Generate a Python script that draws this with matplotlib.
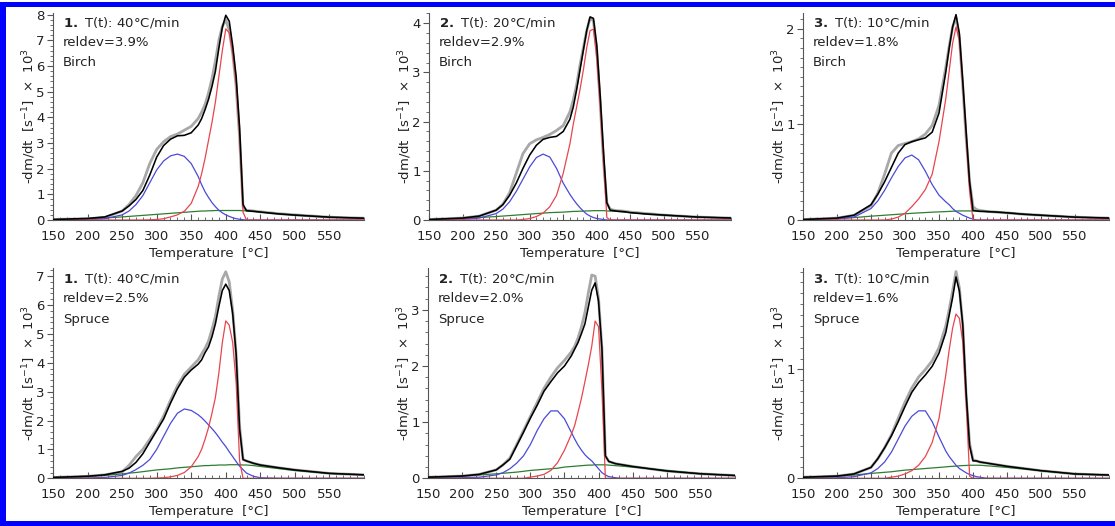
import matplotlib
matplotlib.use("Agg")
import matplotlib.pyplot as plt
from matplotlib.patches import Rectangle
from matplotlib.ticker import MultipleLocator

plt.rcParams['font.family'] = ['DejaVu Sans']

# Shared temperature grid [°C]
temperature = [150, 200, 225, 250, 260, 270, 280, 290, 300, 310, 320, 330, 340, 350, 360, 365, 370,
               375, 380, 385, 390, 395, 400, 405, 410, 415, 420, 425, 430, 440, 450, 475, 500, 550, 600]

# ---- Birch, 40 °C/min ----
birch40_obs = [0.02, 0.05, 0.1, 0.35, 0.6, 0.95, 1.45, 2.2, 2.75, 3.05, 3.25, 3.35, 3.5, 3.65, 3.95, 4.2, 4.5,
               4.95, 5.5, 6.2, 7.0, 7.55, 7.8, 7.4, 6.5, 5.2, 3.2, 0.5, 0.38, 0.35, 0.32, 0.25, 0.2, 0.11, 0.07]
birch40_fit = [0.02, 0.06, 0.12, 0.35, 0.55, 0.8, 1.15, 1.75, 2.45, 2.9, 3.15, 3.28, 3.3, 3.4, 3.7, 3.95, 4.3,
               4.7, 5.2, 5.8, 6.7, 7.5, 7.98, 7.75, 6.8, 5.6, 3.6, 0.6, 0.36, 0.34, 0.31, 0.24, 0.19, 0.11, 0.07]
birch40_hemi = [0, 0.01, 0.05, 0.2, 0.35, 0.6, 0.95, 1.45, 1.95, 2.3, 2.5, 2.57, 2.48, 2.2, 1.7, 1.38, 1.1,
                0.88, 0.68, 0.52, 0.38, 0.28, 0.2, 0.14, 0.09, 0.05, 0.03, 0.01, 0, 0, 0, 0, 0, 0, 0]
birch40_cell = [0, 0, 0, 0, 0, 0, 0, 0.01, 0.02, 0.05, 0.12, 0.2, 0.34, 0.65, 1.3, 1.8, 2.4,
                3.1, 3.8, 4.6, 5.6, 6.6, 7.45, 7.3, 6.5, 5.3, 3.3, 0.3, 0, 0, 0, 0, 0, 0, 0]
birch40_lig = [0.02, 0.05, 0.08, 0.12, 0.14, 0.16, 0.18, 0.2, 0.22, 0.24, 0.26, 0.28, 0.3, 0.32, 0.34, 0.35, 0.35,
               0.36, 0.36, 0.37, 0.37, 0.37, 0.37, 0.37, 0.37, 0.37, 0.37, 0.36, 0.36, 0.34, 0.31, 0.25, 0.2, 0.11, 0.07]

# ---- Birch, 20 °C/min ----
birch20_obs = [0.01, 0.04, 0.08, 0.2, 0.32, 0.55, 0.95, 1.35, 1.55, 1.63, 1.68, 1.74, 1.82, 1.92, 2.2, 2.44, 2.75,
               3.15, 3.5, 3.85, 4.1, 4.05, 3.45, 2.4, 1.2, 0.35, 0.22, 0.2, 0.19, 0.18, 0.16, 0.13, 0.1, 0.06, 0.04]
birch20_fit = [0.01, 0.04, 0.08, 0.2, 0.31, 0.5, 0.75, 1.05, 1.32, 1.52, 1.64, 1.68, 1.7, 1.8, 2.05, 2.3, 2.65,
               3.05, 3.45, 3.85, 4.13, 4.1, 3.55, 2.55, 1.4, 0.35, 0.2, 0.19, 0.18, 0.17, 0.15, 0.12, 0.1, 0.06, 0.04]
birch20_hemi = [0, 0.01, 0.04, 0.13, 0.22, 0.37, 0.58, 0.83, 1.08, 1.27, 1.34, 1.28, 1.05, 0.75, 0.52, 0.42, 0.33,
                0.25, 0.18, 0.12, 0.08, 0.05, 0.03, 0.02, 0.01, 0, 0, 0, 0, 0, 0, 0, 0, 0, 0]
birch20_cell = [0, 0, 0, 0, 0, 0, 0, 0.01, 0.03, 0.07, 0.14, 0.27, 0.5, 0.95, 1.55, 1.95, 2.3,
                2.65, 3.05, 3.5, 3.85, 3.88, 3.3, 2.35, 1.2, 0.05, 0, 0, 0, 0, 0, 0, 0, 0, 0]
birch20_lig = [0.01, 0.03, 0.05, 0.07, 0.08, 0.09, 0.1, 0.11, 0.12, 0.13, 0.14, 0.15, 0.155, 0.16, 0.17, 0.175, 0.175,
               0.18, 0.18, 0.185, 0.185, 0.19, 0.19, 0.19, 0.19, 0.185, 0.18, 0.18, 0.175, 0.165, 0.15, 0.125, 0.1, 0.06, 0.04]

# ---- Birch, 10 °C/min ----
birch10_obs = [0.005, 0.02, 0.05, 0.15, 0.28, 0.48, 0.7, 0.78, 0.8, 0.82, 0.85, 0.9, 0.99, 1.2, 1.6, 1.82, 2.02,
               2.12, 1.9, 1.4, 0.85, 0.4, 0.14, 0.11, 0.1, 0.095, 0.09, 0.088, 0.085, 0.08, 0.075, 0.06, 0.05, 0.03, 0.02]
birch10_fit = [0.005, 0.02, 0.05, 0.16, 0.27, 0.4, 0.55, 0.7, 0.79, 0.82, 0.84, 0.86, 0.92, 1.12, 1.55, 1.8, 2.02,
               2.15, 1.95, 1.45, 0.92, 0.4, 0.1, 0.095, 0.09, 0.09, 0.088, 0.086, 0.085, 0.08, 0.075, 0.06, 0.05, 0.03, 0.02]
birch10_hemi = [0, 0.01, 0.03, 0.12, 0.2, 0.31, 0.44, 0.56, 0.65, 0.68, 0.63, 0.51, 0.37, 0.26, 0.19, 0.16, 0.12,
                0.09, 0.07, 0.05, 0.035, 0.02, 0.01, 0, 0, 0, 0, 0, 0, 0, 0, 0, 0, 0, 0]
birch10_cell = [0, 0, 0, 0, 0, 0, 0.01, 0.03, 0.07, 0.14, 0.22, 0.32, 0.48, 0.82, 1.27, 1.56, 1.85,
                2.02, 1.88, 1.42, 0.86, 0.3, 0, 0, 0, 0, 0, 0, 0, 0, 0, 0, 0, 0, 0]
birch10_lig = [0.005, 0.015, 0.025, 0.04, 0.045, 0.05, 0.055, 0.06, 0.065, 0.07, 0.074, 0.078, 0.082, 0.085, 0.088, 0.09, 0.092,
               0.093, 0.095, 0.095, 0.095, 0.095, 0.095, 0.094, 0.093, 0.092, 0.09, 0.088, 0.086, 0.082, 0.075, 0.062, 0.05, 0.03, 0.02]

# ---- Spruce, 40 °C/min ----
spruce40_obs = [0.03, 0.07, 0.12, 0.22, 0.45, 0.75, 1.0, 1.35, 1.7, 2.15, 2.7, 3.2, 3.6, 3.85, 4.1, 4.3, 4.5,
                4.75, 5.15, 5.6, 6.3, 6.9, 7.15, 6.8, 5.8, 4.3, 1.8, 0.65, 0.6, 0.52, 0.46, 0.37, 0.29, 0.17, 0.12]
spruce40_fit = [0.03, 0.07, 0.12, 0.24, 0.35, 0.55, 0.85, 1.25, 1.65, 2.05, 2.6, 3.1, 3.5, 3.75, 3.95, 4.1, 4.35,
                4.55, 4.9, 5.35, 5.95, 6.5, 6.72, 6.5, 5.7, 4.3, 1.7, 0.65, 0.6, 0.52, 0.46, 0.37, 0.29, 0.17, 0.12]
spruce40_hemi = [0, 0.01, 0.03, 0.1, 0.18, 0.3, 0.45, 0.65, 1.0, 1.45, 1.9, 2.25, 2.4, 2.35, 2.2, 2.1, 1.98,
                 1.85, 1.72, 1.58, 1.42, 1.25, 1.1, 0.92, 0.75, 0.58, 0.42, 0.3, 0.18, 0.07, 0.02, 0, 0, 0, 0]
spruce40_cell = [0, 0, 0, 0, 0, 0, 0, 0, 0.01, 0.02, 0.05, 0.1, 0.2, 0.4, 0.75, 1.0, 1.35,
                 1.75, 2.25, 2.8, 3.65, 4.7, 5.45, 5.3, 4.7, 3.3, 0.6, 0, 0, 0, 0, 0, 0, 0, 0]
spruce40_lig = [0.03, 0.07, 0.1, 0.15, 0.18, 0.2, 0.23, 0.26, 0.29, 0.31, 0.33, 0.36, 0.38, 0.4, 0.42, 0.43, 0.44,
                0.44, 0.45, 0.45, 0.46, 0.46, 0.46, 0.47, 0.47, 0.47, 0.47, 0.46, 0.46, 0.44, 0.41, 0.34, 0.27, 0.17, 0.12]

# ---- Spruce, 20 °C/min ----
spruce20_obs = [0.02, 0.04, 0.07, 0.15, 0.24, 0.36, 0.6, 0.85, 1.1, 1.35, 1.6, 1.8, 1.97, 2.1, 2.25, 2.35, 2.5,
                2.7, 2.95, 3.3, 3.62, 3.6, 3.2, 2.3, 0.4, 0.3, 0.28, 0.26, 0.25, 0.23, 0.21, 0.17, 0.13, 0.08, 0.05]
spruce20_fit = [0.02, 0.04, 0.07, 0.15, 0.24, 0.34, 0.58, 0.82, 1.07, 1.3, 1.55, 1.72, 1.88, 2.0, 2.18, 2.3, 2.42,
                2.58, 2.75, 3.05, 3.35, 3.48, 3.15, 2.3, 0.4, 0.3, 0.28, 0.26, 0.25, 0.23, 0.21, 0.17, 0.13, 0.08, 0.05]
spruce20_hemi = [0, 0.01, 0.02, 0.06, 0.1, 0.17, 0.27, 0.4, 0.6, 0.85, 1.06, 1.2, 1.2, 1.06, 0.82, 0.7, 0.59,
                 0.5, 0.42, 0.36, 0.31, 0.24, 0.17, 0.1, 0.06, 0.03, 0.02, 0.01, 0, 0, 0, 0, 0, 0, 0]
spruce20_cell = [0, 0, 0, 0, 0, 0, 0, 0, 0.02, 0.04, 0.07, 0.14, 0.28, 0.5, 0.78, 0.94, 1.18,
                 1.43, 1.72, 2.02, 2.35, 2.8, 2.7, 1.55, 0, 0, 0, 0, 0, 0, 0, 0, 0, 0, 0]
spruce20_lig = [0.02, 0.04, 0.06, 0.08, 0.09, 0.1, 0.11, 0.125, 0.14, 0.15, 0.16, 0.17, 0.18, 0.2, 0.21, 0.215, 0.22,
                0.225, 0.23, 0.235, 0.235, 0.24, 0.24, 0.24, 0.24, 0.235, 0.23, 0.225, 0.22, 0.21, 0.2, 0.17, 0.14, 0.08, 0.05]

# ---- Spruce, 10 °C/min ----
spruce10_obs = [0.01, 0.02, 0.04, 0.1, 0.18, 0.28, 0.4, 0.55, 0.7, 0.83, 0.93, 1.0, 1.08, 1.2, 1.4, 1.55, 1.72,
                1.9, 1.75, 1.4, 0.75, 0.32, 0.17, 0.16, 0.15, 0.145, 0.14, 0.135, 0.13, 0.12, 0.11, 0.09, 0.07, 0.04, 0.03]
spruce10_fit = [0.01, 0.02, 0.04, 0.1, 0.18, 0.28, 0.39, 0.52, 0.66, 0.79, 0.88, 0.95, 1.03, 1.15, 1.34, 1.5, 1.66,
                1.85, 1.72, 1.41, 0.78, 0.3, 0.16, 0.16, 0.15, 0.145, 0.14, 0.135, 0.13, 0.12, 0.11, 0.09, 0.07, 0.04, 0.03]
spruce10_hemi = [0, 0.005, 0.015, 0.05, 0.09, 0.15, 0.24, 0.36, 0.48, 0.57, 0.62, 0.62, 0.52, 0.38, 0.25, 0.2, 0.16,
                 0.12, 0.09, 0.07, 0.05, 0.035, 0.025, 0.015, 0.01, 0.005, 0, 0, 0, 0, 0, 0, 0, 0, 0]
spruce10_cell = [0, 0, 0, 0, 0, 0, 0.01, 0.02, 0.04, 0.07, 0.12, 0.2, 0.33, 0.55, 0.95, 1.18, 1.38,
                 1.51, 1.47, 1.25, 0.7, 0.02, 0, 0, 0, 0, 0, 0, 0, 0, 0, 0, 0, 0, 0]
spruce10_lig = [0.01, 0.02, 0.03, 0.045, 0.05, 0.055, 0.06, 0.068, 0.075, 0.08, 0.085, 0.09, 0.095, 0.1, 0.105, 0.108, 0.11,
                0.112, 0.115, 0.117, 0.118, 0.12, 0.12, 0.12, 0.12, 0.118, 0.115, 0.113, 0.11, 0.105, 0.1, 0.085, 0.07, 0.04, 0.03]

# Panel labels
panel_numbers = ["1.", "2.", "3.", "1.", "2.", "3."]
panel_rates = ["40°C/min", "20°C/min", "10°C/min", "40°C/min", "20°C/min", "10°C/min"]
panel_reldev = ["3.9%", "2.9%", "1.8%", "2.5%", "2.0%", "1.6%"]
panel_wood = ["Birch", "Birch", "Birch", "Spruce", "Spruce", "Spruce"]
x_ticks = [150, 200, 250, 300, 350, 400, 450, 500, 550]

series = [
    (birch40_obs, birch40_fit, birch40_hemi, birch40_cell, birch40_lig),
    (birch20_obs, birch20_fit, birch20_hemi, birch20_cell, birch20_lig),
    (birch10_obs, birch10_fit, birch10_hemi, birch10_cell, birch10_lig),
    (spruce40_obs, spruce40_fit, spruce40_hemi, spruce40_cell, spruce40_lig),
    (spruce20_obs, spruce20_fit, spruce20_hemi, spruce20_cell, spruce20_lig),
    (spruce10_obs, spruce10_fit, spruce10_hemi, spruce10_cell, spruce10_lig),
]

W, H = 1115, 526
fig = plt.figure(figsize=(W / 100, H / 100), dpi=100)

# layout in pixels: (left, width, y_of_zero, y_of_top)
layout = [(53, 311, 220, 12.7), (429, 302, 220, 12.7), (803, 306, 220, 12.7),
          (53, 311, 478.3, 268.3), (428, 307, 478.3, 268.3), (803, 306, 478.3, 268.3)]
ytops = [8.08, 4.215, 2.17, 7.27, 3.74, 1.93]
yminor = [0.2, 0.2, 0.1, 0.2, 0.2, 0.1]
txt = '#222222'
axcol = '#555555'

for i, (obs, fit, hemi, cell, lig) in enumerate(series):
    lx, wd, y0, yt = layout[i]
    ax = fig.add_axes([lx / W, 1 - y0 / H, wd / W, (y0 - yt) / H])
    ax.plot(temperature, obs, color='#a8a8a8', lw=2.0, solid_joinstyle='round', zorder=2)
    ax.plot(temperature, lig, color='#2f7d32', lw=0.9, solid_joinstyle='round', zorder=3)
    ax.plot(temperature, hemi, color='#4a4ad8', lw=0.9, solid_joinstyle='round', zorder=3)
    ax.plot(temperature, cell, color='#e8454d', lw=0.9, solid_joinstyle='round', zorder=3)
    ax.plot(temperature, fit, color='black', lw=1.15, solid_joinstyle='round', zorder=4)
    ax.set_xlim(150, 600)
    ax.set_ylim(0, ytops[i])
    ax.spines['top'].set_visible(False)
    ax.spines['right'].set_visible(False)
    for s in ('left', 'bottom'):
        ax.spines[s].set_color(axcol)
        ax.spines[s].set_linewidth(0.8)
    ax.set_xticks(x_ticks)
    ax.xaxis.set_minor_locator(MultipleLocator(10))
    ax.yaxis.set_major_locator(MultipleLocator(1))
    ax.yaxis.set_minor_locator(MultipleLocator(yminor[i]))
    ax.tick_params(axis='x', which='major', direction='in', length=4, width=0.8, color=axcol,
                   labelsize=9.5, pad=7, labelcolor=txt)
    ax.tick_params(axis='x', which='minor', direction='in', length=2.5, width=0.6, color=axcol)
    ax.tick_params(axis='y', which='major', direction='out', length=4, width=0.8, color=axcol,
                   labelsize=9.5, pad=2, labelcolor=txt)
    ax.tick_params(axis='y', which='minor', direction='out', length=2.5, width=0.6, color=axcol)
    ax.set_xlabel("Temperature  [°C]", fontsize=9.5, labelpad=3, color=txt)
    ax.set_ylabel("-dm/dt  [s$^{-1}$]  ×  10$^{3}$", fontsize=9.5, labelpad=-1, color=txt)
    tx = 0.032
    ax.text(tx, 0.952, r"$\mathbf{" + panel_numbers[i] + "}$" + " T(t): " + panel_rates[i],
            transform=ax.transAxes, fontsize=9.5, va='center', ha='left', color=txt)
    ax.text(tx, 0.855, "reldev=" + panel_reldev[i], transform=ax.transAxes, fontsize=9.5,
            va='center', ha='left', color=txt)
    ax.text(tx, 0.758, panel_wood[i], transform=ax.transAxes, fontsize=9.5,
            va='center', ha='left', color=txt)

# blue frame
blue = '#0000ff'
for (x, y, w, h) in [(0, 2, 6, 524), (0, 2, W, 5), (0, 521, W, 5)]:
    fig.add_artist(Rectangle((x / W, 1 - (y + h) / H), w / W, h / H, transform=fig.transFigure,
                             facecolor=blue, edgecolor='none', zorder=10))

fig.savefig("out.png", dpi=100)
